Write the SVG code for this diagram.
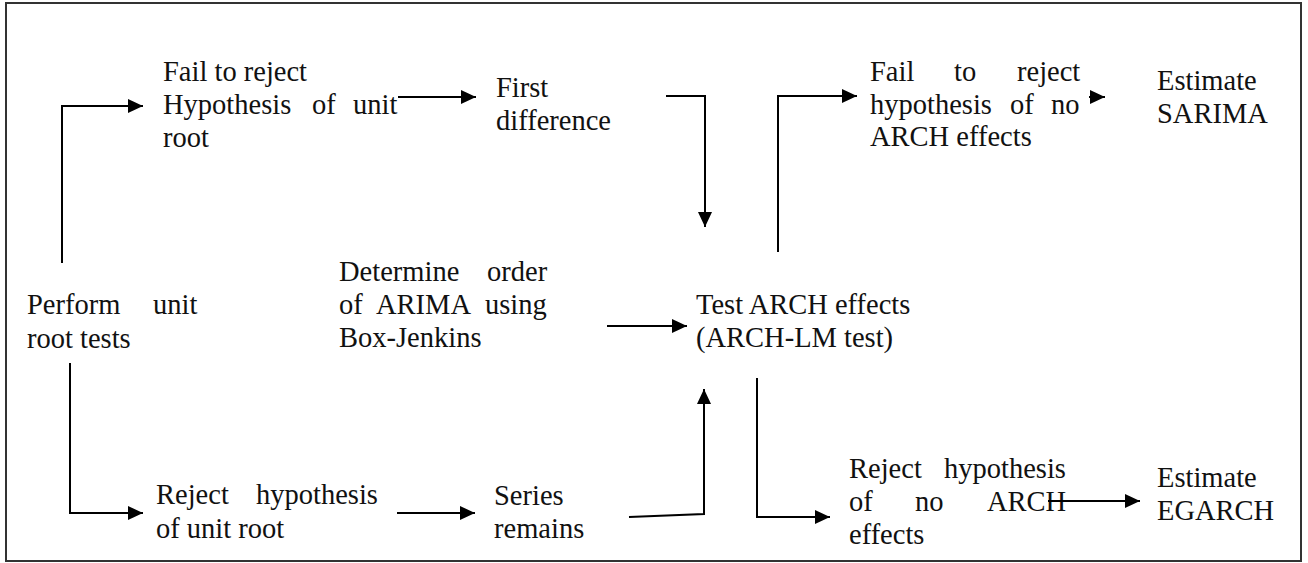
<svg xmlns="http://www.w3.org/2000/svg" width="1308" height="563" viewBox="0 0 1308 563">
<style>
.c{fill:none;stroke:#000;stroke-width:2}
</style>
<defs>
<marker id="ah" markerUnits="userSpaceOnUse" markerWidth="16" markerHeight="16" refX="15" refY="7" orient="auto"><path d="M0,0 L15,7 L0,14 z" fill="#000"/></marker>
</defs>
<rect x="6" y="3" width="1295" height="558" fill="#fff" stroke="#333" stroke-width="2"/>
<g font-family="'Liberation Serif', 'Times New Roman', serif" font-size="28.5" fill="#111">
<g id="n-fail1">
<text x="163" y="81">Fail to reject</text>
<text y="114"><tspan x="163">Hypothesis</tspan><tspan x="312">of</tspan><tspan x="353">unit</tspan></text>
<text x="163" y="147">root</text>
</g>
<g id="n-first">
<text x="496" y="97">First</text>
<text x="496" y="130">difference</text>
</g>
<g id="n-fail2">
<text y="81"><tspan x="870">Fail</tspan><tspan x="954">to</tspan><tspan x="1017">reject</tspan></text>
<text y="114"><tspan x="870">hypothesis</tspan><tspan x="1010">of</tspan><tspan x="1051">no</tspan></text>
<text x="870" y="146">ARCH effects</text>
</g>
<g id="n-sarima">
<text x="1157" y="90">Estimate</text>
<text x="1157" y="123">SARIMA</text>
</g>
<g id="n-perform">
<text y="314"><tspan x="27">Perform</tspan><tspan x="153">unit</tspan></text>
<text x="27" y="348">root tests</text>
</g>
<g id="n-determine">
<text y="281"><tspan x="339">Determine</tspan><tspan x="487">order</tspan></text>
<text y="314"><tspan x="339">of</tspan><tspan x="376">ARIMA</tspan><tspan x="485">using</tspan></text>
<text x="339" y="347">Box-Jenkins</text>
</g>
<g id="n-test">
<text x="696" y="314">Test ARCH effects</text>
<text x="696" y="347">(ARCH-LM test)</text>
</g>
<g id="n-reject1">
<text y="504"><tspan x="156">Reject</tspan><tspan x="256">hypothesis</tspan></text>
<text x="156" y="538">of unit root</text>
</g>
<g id="n-series">
<text x="494" y="505">Series</text>
<text x="494" y="538">remains</text>
</g>
<g id="n-reject2">
<text y="478"><tspan x="849">Reject</tspan><tspan x="944">hypothesis</tspan></text>
<text y="511"><tspan x="849">of</tspan><tspan x="915">no</tspan><tspan x="987">ARCH</tspan></text>
<text x="849" y="544">effects</text>
</g>
<g id="n-egarch">
<text x="1157" y="487">Estimate</text>
<text x="1157" y="520">EGARCH</text>
</g>
</g>
<g id="connectors" class="c">
<path class="c" d="M62,263 V106 H143" marker-end="url(#ah)"/>
<path class="c" d="M398,97 H476" marker-end="url(#ah)"/>
<path class="c" d="M666,96 H705 V227" marker-end="url(#ah)"/>
<path class="c" d="M778,252 V96 H857" marker-end="url(#ah)"/>
<path class="c" d="M1089,97 H1105" marker-end="url(#ah)"/>
<path class="c" d="M70,363 V513 H143" marker-end="url(#ah)"/>
<path class="c" d="M397,513 H475" marker-end="url(#ah)"/>
<path class="c" d="M629,517 L704,514 V389" marker-end="url(#ah)"/>
<path class="c" d="M607,326 H687" marker-end="url(#ah)"/>
<path class="c" d="M757,378 V517 H830" marker-end="url(#ah)"/>
<path class="c" d="M1048,501 H1140" marker-end="url(#ah)"/>
</g>
</svg>
